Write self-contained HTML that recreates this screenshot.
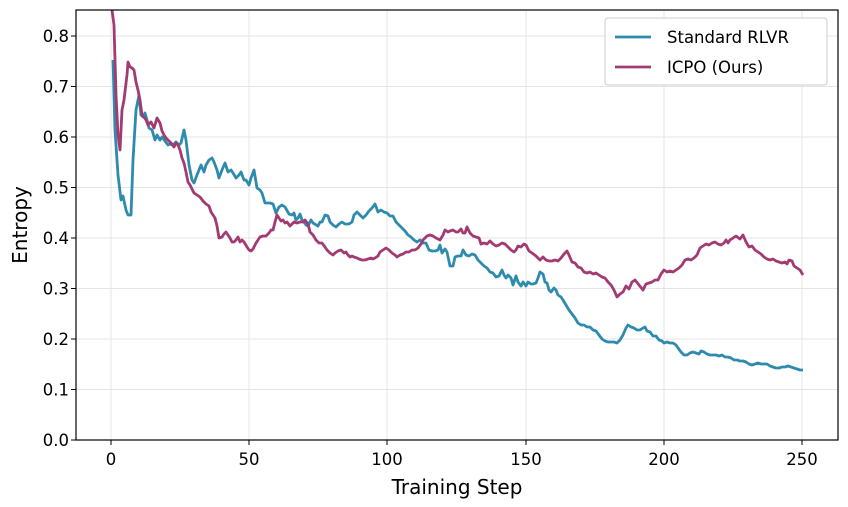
<!DOCTYPE html>
<html><head><meta charset="utf-8"><style>
body{margin:0;background:#fff}
svg{display:block;font-family:"DejaVu Sans","Liberation Sans",sans-serif}
</style></head><body>
<svg width="848" height="507" viewBox="0 0 848 507">
<rect width="848" height="507" fill="#fff"/>
<g stroke="#e5e5e5" stroke-width="1">
<line x1="111" y1="10" x2="111" y2="440"/><line x1="249" y1="10" x2="249" y2="440"/><line x1="387" y1="10" x2="387" y2="440"/><line x1="526" y1="10" x2="526" y2="440"/><line x1="664" y1="10" x2="664" y2="440"/><line x1="802" y1="10" x2="802" y2="440"/>
<line x1="76" y1="389.5" x2="838" y2="389.5"/><line x1="76" y1="339" x2="838" y2="339"/><line x1="76" y1="288.5" x2="838" y2="288.5"/><line x1="76" y1="238" x2="838" y2="238"/><line x1="76" y1="187.5" x2="838" y2="187.5"/><line x1="76" y1="137" x2="838" y2="137"/><line x1="76" y1="86.5" x2="838" y2="86.5"/><line x1="76" y1="36" x2="838" y2="36"/>
</g>
<polyline fill="none" stroke="#2e8bad" stroke-width="2.8" stroke-linejoin="round" points="113,60 115,130 118,175 121,200 123,196 126,210 128,215 131,215 133,160 136,110 139,95 141,115 143,117 145,113 147,120 149,128 152,130 155,140 157,135 160,140 162,137 165,141 168,145 170,144 173,145 176,142 179,145 181,143 184,130 186,140 189,165 192,180 194,183 197,175 199,170 201,165 204,172 206,165 209,160 212,158 214,162 217,170 219,178 222,170 225,163 228,172 231,170 233,173 236,178 239,175 241,172 244,180 246,180 249,185 251,178 254,170 257,188 260,190 262,193 265,203 270,203 273,204 276,213 279,207 282,205 285,207 289,214 292,215 294,213 296,220 298,218 300,214 302,220 304,222 306,225 308,226 311,220 313,223 318,226 320,222 322,222 325,215 328,216 330,222 333,225 336,227 339,224 342,222 345,224 349,224 352,222 354,215 357,212 360,215 363,218 366,215 369,211 372,208 375,204 378,212 381,210 384,212 387,213 390,216 393,216 396,222 399,225 402,228 405,231 408,235 411,237 414,240 417,242 420,240 423,243 426,243 429,250 432,251 435,251 438,250 440,245 442,253 445,249 447,252 450,266 453,266 455,257 458,256 461,256 463,250 466,255 469,256 472,254 475,255 478,260 481,263 484,266 487,268 490,272 493,273 496,277 499,276 502,270 504,275 506,278 508,275 511,278 513,285 516,276 518,282 521,286 523,282 526,286 528,282 531,284 533,284 536,283 538,278 540,272 543,274 545,282 547,283 549,290 551,292 554,288 556,290 558,295 561,297 563,300 566,305 569,310 572,314 575,318 578,323 581,325 584,325 587,327 590,327 593,330 596,331 599,335 602,339 605,341 608,342 611,342 614,342 617,343 620,340 623,335 626,328 628,325 631,327 634,328 637,330 640,330 643,328 645,327 647,331 650,332 653,336 656,336 659,340 662,341 664,343 667,342 670,343 673,343 676,345 678,348 681,352 684,355 687,355 690,353 693,352 696,353 699,354 701,351 704,352 707,354 710,355 713,355 716,355 719,356 722,355 725,357 728,357 731,358 734,360 737,360 740,361 743,361 746,362 749,364 752,365 755,364 758,363 761,364 764,364 767,364 770,366 773,367 776,368 779,368 782,367 785,367 788,366 791,367 794,368 797,369 800,370 803,370"/>
<polyline fill="none" stroke="#a23b72" stroke-width="2.8" stroke-linejoin="round" points="112,10 114,25 116,95 118,135 120,150 122,110 124,100 127,75 128,62 130,67 132,68 134,70 136,82 138,90 140,100 142,115 144,117 146,120 148,125 151,122 154,128 157,118 160,123 162,131 164,135 166,138 168,140 171,143 174,147 176,143 178,145 180,150 182,158 184,163 186,172 188,182 190,185 192,189 194,193 197,195 200,197 203,201 206,204 209,206 211,212 213,215 215,218 217,226 219,238 222,237 224,234 226,232 228,235 230,238 232,242 234,242 236,240 238,237 240,242 242,240 244,242 247,247 249,250 251,251 253,249 256,243 258,240 260,237 263,236 266,236 269,233 271,230 273,230 275,222 277,215 279,218 281,221 283,220 285,223 287,222 290,226 292,224 294,222 297,223 300,222 303,222 305,220 308,224 310,232 313,235 316,240 319,243 322,243 325,247 327,250 330,253 333,255 335,253 338,251 341,250 344,253 346,252 348,255 350,257 352,256 354,257 357,258 359,259 362,260 365,260 368,259 371,258 373,259 375,258 378,256 380,252 383,250 386,248 389,250 392,253 395,255 397,257 400,255 403,254 406,252 409,252 412,250 415,250 418,248 421,244 423,240 425,238 427,236 430,235 433,236 436,238 440,240 443,235 445,230 448,232 450,231 453,230 456,232 458,232 461,229 463,233 465,233 467,227 470,233 473,236 476,237 479,238 481,244 484,243 487,244 490,241 493,244 496,246 499,245 502,243 505,244 508,247 511,250 514,252 516,250 518,246 521,247 524,244 526,245 529,251 532,253 536,256 540,260 543,257 546,260 549,261 552,261 555,260 558,261 561,258 564,254 567,251 569,255 572,262 575,263 578,267 581,268 584,272 587,273 590,272 593,274 596,273 599,275 602,277 605,278 608,282 611,285 614,290 617,297 620,294 623,292 626,286 629,289 632,282 635,280 639,285 643,290 646,284 649,283 652,282 655,280 658,280 661,274 664,270 667,272 670,271 673,272 676,270 679,268 682,265 685,260 688,259 691,260 694,258 697,255 700,248 703,246 706,244 709,245 712,243 715,242 718,244 721,245 724,243 726,240 728,243 730,240 733,238 736,236 740,239 743,235 746,242 749,247 752,246 755,250 758,252 761,254 764,257 767,259 770,260 773,259 776,261 779,262 782,263 785,262 787,264 789,260 792,261 794,266 797,268 800,270 803,275"/>
<rect x="76" y="10" width="762" height="430" fill="none" stroke="#000" stroke-width="1.2"/>
<g stroke="#000" stroke-width="1">
<line x1="71" y1="440" x2="76" y2="440"/><line x1="71" y1="389.5" x2="76" y2="389.5"/><line x1="71" y1="339" x2="76" y2="339"/><line x1="71" y1="288.5" x2="76" y2="288.5"/><line x1="71" y1="238" x2="76" y2="238"/><line x1="71" y1="187.5" x2="76" y2="187.5"/><line x1="71" y1="137" x2="76" y2="137"/><line x1="71" y1="86.5" x2="76" y2="86.5"/><line x1="71" y1="36" x2="76" y2="36"/>
<line x1="111" y1="440" x2="111" y2="445"/><line x1="249" y1="440" x2="249" y2="445"/><line x1="387" y1="440" x2="387" y2="445"/><line x1="526" y1="440" x2="526" y2="445"/><line x1="664" y1="440" x2="664" y2="445"/><line x1="802" y1="440" x2="802" y2="445"/>
</g>
<g font-size="16.5" fill="#000" text-anchor="end">
<text x="69" y="446">0.0</text><text x="69" y="395.5">0.1</text><text x="69" y="345">0.2</text><text x="69" y="294.5">0.3</text><text x="69" y="244">0.4</text><text x="69" y="193.5">0.5</text><text x="69" y="143">0.6</text><text x="69" y="92.5">0.7</text><text x="69" y="42">0.8</text>
</g>
<g font-size="16.5" fill="#000" text-anchor="middle">
<text x="111" y="465">0</text><text x="249" y="465">50</text><text x="387" y="465">100</text><text x="526" y="465">150</text><text x="664" y="465">200</text><text x="802" y="465">250</text>
<text x="457" y="494" font-size="20">Training Step</text>
</g>
<text transform="translate(27,225) rotate(-90)" font-size="20" text-anchor="middle">Entropy</text>
<rect x="605" y="18" width="222" height="67" rx="3" fill="#fff" stroke="#ccc"/>
<line x1="615" y1="37" x2="651" y2="37" stroke="#2e8bad" stroke-width="2.8"/>
<line x1="615" y1="67" x2="651" y2="67" stroke="#a23b72" stroke-width="2.8"/>
<text x="667" y="43" font-size="16.5">Standard RLVR</text>
<text x="667" y="73" font-size="16.5">ICPO (Ours)</text>
</svg>
</body></html>
